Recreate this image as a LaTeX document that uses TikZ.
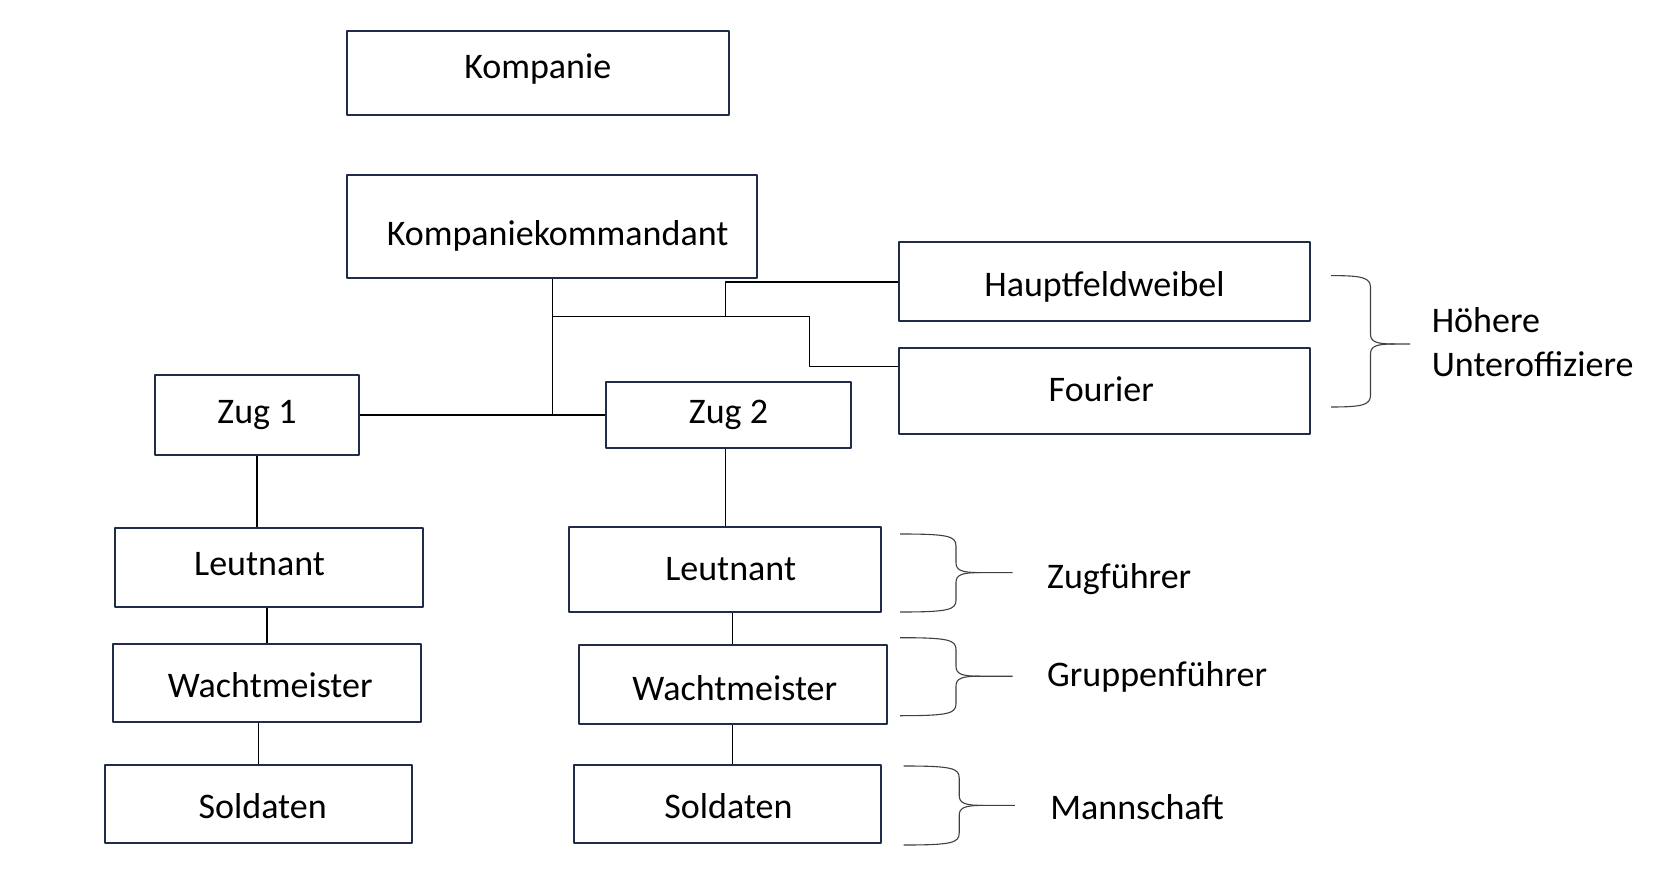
\documentclass[tikz,border=0pt]{standalone}
\usepackage{fontspec}
\setmainfont{Carlito}
\definecolor{boxline}{HTML}{1F2D4A}
\tikzset{
	rank/.style={draw=boxline, line width=1pt, fill=white, inner sep=0pt, font=\fontsize{18}{21.6}\selectfont},
	boxsize/.style 2 args={minimum width=#1*0.5pt, minimum height=#2*0.5pt},
	link/.style={line width=0.55pt, black},
	curly/.style={line width=0.55pt, black!75},
	note/.style={anchor=west, inner sep=0pt, align=left, font=\fontsize{18}{21.9}\selectfont},
}
% text off centre inside its box: right, up, text
\newcommand{\offtext}[3]{\hspace*{#1}\raisebox{#2}[\height][\depth]{#3}\hspace*{-#1}}
% left, spine, tip, top, bottom, middle
\newcommand{\rankbrace}[6]{%
	\draw[curly] (#1,#4) .. controls (#2-8,#4) and (#2,#4+2) .. (#2,#4+12) -- (#2,#6-10)
		.. controls (#2,#6-2) and (#2+6,#6) .. (#2+24,#6) -- (#3,#6);
	\draw[curly] (#1,#5) .. controls (#2-8,#5) and (#2,#5-2) .. (#2,#5-12) -- (#2,#6+10)
		.. controls (#2,#6+2) and (#2+6,#6) .. (#2+24,#6);
}
\begin{document}
\begin{tikzpicture}[x=0.5pt, y=-0.5pt, line join=round]
			\useasboundingbox (0,0) rectangle (1675,871);
			\node[rank, boxsize={381.5}{84.4}] (kompanie) at (537.8,73.2) {\offtext{0pt}{2.1pt}{Kompanie}};
			\node[rank, boxsize={410.4}{102.7}] (kk) at (552.2,226.4) {\offtext{2.7pt}{-4.8pt}{Kompaniekommandant}};
			\node[rank, boxsize={410.2}{79}] (hfw) at (1104.5,282) {\offtext{0pt}{-2.4pt}{Hauptfeldweibel}};
			\node[rank, boxsize={410.2}{85.7}] (fourier) at (1104.5,390.9) {\offtext{-1.6pt}{1pt}{Fourier}};
			\node[rank, boxsize={204}{79}] (zug1) at (257,415) {Zug 1};
			\node[rank, boxsize={245.7}{66.3}] (zug2) at (728.5,415) {Zug 2};
			\node[rank, boxsize={307.6}{79}] (leutL) at (269.2,567.2) {\offtext{-4.8pt}{1.6pt}{Leutnant}};
			\node[rank, boxsize={311.9}{85.4}] (leutR) at (725.3,569.3) {\offtext{2.7pt}{0pt}{Leutnant}};
			\node[rank, boxsize={307.7}{78}] (wachL) at (267,683) {\offtext{1.6pt}{-1pt}{Wachtmeister}};
			\node[rank, boxsize={307.6}{79.2}] (wachR) at (732.8,684.6) {\offtext{1pt}{-1.6pt}{Wachtmeister}};
			\node[rank, boxsize={307.6}{78}] (soldL) at (258.5,803.8) {\offtext{2.1pt}{-1pt}{Soldaten}};
			\node[rank, boxsize={307.7}{78}] (soldR) at (727.5,803.8) {\offtext{0.5pt}{-1pt}{Soldaten}};
			\coordinate (fork) at (552.2,316.2);
			\coordinate (hfwfork) at (725.3,316.2);
			\coordinate (bend) at (809.7,316.2);
			\coordinate (fin) at (0,366.4);
			\draw[link] (kk.south) -- (kk.south |- zug2.west);
			\draw[link] (zug1.east) -- (zug2.west);
			\draw[link] (fork) -- (bend) |- (fourier.west |- fin);
			\draw[link] (hfwfork) |- (hfw.west);
			\draw[link] (zug1.south) -- (zug1.south |- leutL.north);
			\draw[link] (leutR.north |- zug2.south) -- (leutR.north);
			\draw[link] (wachL.north |- leutL.south) -- (wachL.north);
			\draw[link] (wachR.north |- leutR.south) -- (wachR.north);
			\draw[link] (soldL.north |- wachL.south) -- (soldL.north);
			\draw[link] (wachR.south) -- (wachR.south |- soldR.north);
			\rankbrace{1331}{1370.5}{1410}{275.6}{407}{344}
			\rankbrace{900}{956}{1012.6}{534}{612}{572.6}
			\rankbrace{900}{956}{1012.6}{637.7}{715.7}{676.2}
			\rankbrace{903.7}{959.2}{1014.8}{766}{845}{805.4}
			\node[note] (hoehere) at (1431.4,342.4) {Höhere\\Unteroffiziere};
			\node[note] (zugf) at (1046.8,579) {Zugführer};
			\node[note] (gruppf) at (1046.8,677) {Gruppenführer};
			\node[note] (mannsch) at (1050,807.5) {Mannschaft};
\end{tikzpicture}
\end{document}
